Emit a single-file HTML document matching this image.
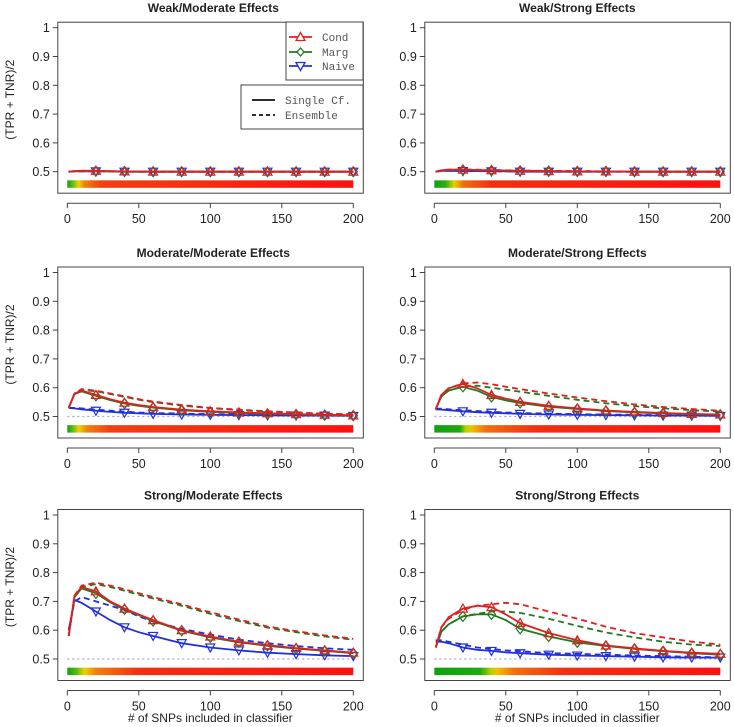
<!DOCTYPE html>
<html><head><meta charset="utf-8"><style>
html,body{margin:0;padding:0;background:#fff}
svg{display:block;font-family:"Liberation Sans",Arial,sans-serif}
</style></head><body>
<svg id="chart" width="734" height="727" viewBox="0 0 734 727" xmlns="http://www.w3.org/2000/svg"></svg>
<script>
const xVals=[1,5,10,20,30,40,50,60,80,100,120,140,160,180,200];
const panelTitles=["Weak/Moderate Effects","Weak/Strong Effects","Moderate/Moderate Effects","Moderate/Strong Effects","Strong/Moderate Effects","Strong/Strong Effects"];
const yTicks=[0.5,0.6,0.7,0.8,0.9,1];
const yTickLabels=["0.5","0.6","0.7","0.8","0.9","1"];
const xTicks=[0,50,100,150,200];
const markerX=[20,40,60,80,100,120,140,160,180,200];
// series per panel: condS, condE, margS, margE, naiveS, naiveE
const p1condS=[0.5,0.502,0.503,0.503,0.502,0.501,0.501,0.5,0.5,0.5,0.5,0.5,0.5,0.5,0.5];
const p1condE=[0.5,0.502,0.503,0.503,0.502,0.501,0.501,0.5,0.5,0.5,0.5,0.5,0.5,0.5,0.5];
const p1margS=[0.5,0.502,0.502,0.502,0.501,0.501,0.5,0.5,0.5,0.5,0.5,0.5,0.5,0.5,0.5];
const p1margE=[0.5,0.502,0.502,0.502,0.501,0.501,0.5,0.5,0.5,0.5,0.5,0.5,0.5,0.5,0.5];
const p1naiveS=[0.5,0.501,0.501,0.501,0.501,0.5,0.5,0.5,0.5,0.5,0.5,0.5,0.5,0.5,0.5];
const p1naiveE=[0.5,0.501,0.501,0.501,0.501,0.5,0.5,0.5,0.5,0.5,0.5,0.5,0.5,0.5,0.5];
const p2condS=[0.5,0.505,0.507,0.507,0.506,0.505,0.504,0.503,0.502,0.501,0.501,0.5,0.5,0.5,0.5];
const p2condE=[0.5,0.505,0.507,0.508,0.507,0.506,0.505,0.504,0.503,0.502,0.501,0.501,0.5,0.5,0.5];
const p2margS=[0.5,0.504,0.506,0.506,0.505,0.504,0.503,0.503,0.502,0.501,0.501,0.5,0.5,0.5,0.5];
const p2margE=[0.5,0.504,0.506,0.507,0.506,0.505,0.504,0.503,0.502,0.502,0.501,0.501,0.5,0.5,0.5];
const p2naiveS=[0.5,0.503,0.503,0.502,0.502,0.501,0.501,0.5,0.5,0.5,0.5,0.5,0.5,0.5,0.5];
const p2naiveE=[0.5,0.503,0.503,0.503,0.502,0.502,0.501,0.501,0.5,0.5,0.5,0.5,0.5,0.5,0.5];
const p3condS=[0.53,0.58,0.59,0.575,0.56,0.548,0.54,0.533,0.524,0.518,0.514,0.511,0.508,0.506,0.504];
const p3condE=[0.53,0.58,0.595,0.59,0.58,0.57,0.56,0.552,0.54,0.53,0.524,0.518,0.514,0.51,0.508];
const p3margS=[0.53,0.578,0.587,0.572,0.557,0.545,0.537,0.531,0.522,0.516,0.512,0.509,0.507,0.505,0.503];
const p3margE=[0.53,0.578,0.592,0.588,0.578,0.568,0.558,0.55,0.538,0.529,0.522,0.517,0.513,0.509,0.507];
const p3naiveS=[0.53,0.528,0.525,0.52,0.516,0.513,0.511,0.509,0.507,0.506,0.505,0.504,0.503,0.503,0.502];
const p3naiveE=[0.53,0.53,0.528,0.524,0.52,0.517,0.514,0.512,0.51,0.508,0.507,0.506,0.505,0.504,0.504];
const p4condS=[0.525,0.575,0.598,0.613,0.598,0.575,0.562,0.551,0.537,0.528,0.521,0.516,0.512,0.509,0.507];
const p4condE=[0.525,0.575,0.598,0.615,0.618,0.612,0.603,0.595,0.58,0.566,0.553,0.542,0.533,0.526,0.52];
const p4margS=[0.525,0.57,0.59,0.603,0.59,0.568,0.556,0.547,0.534,0.526,0.519,0.514,0.511,0.508,0.506];
const p4margE=[0.525,0.57,0.59,0.605,0.607,0.6,0.593,0.586,0.572,0.558,0.546,0.536,0.528,0.522,0.517];
const p4naiveS=[0.525,0.524,0.522,0.518,0.515,0.513,0.511,0.509,0.507,0.506,0.505,0.504,0.503,0.503,0.502];
const p4naiveE=[0.527,0.527,0.525,0.522,0.519,0.516,0.514,0.512,0.51,0.508,0.507,0.506,0.505,0.504,0.504];
const p5condS=[0.58,0.72,0.75,0.735,0.7,0.675,0.655,0.635,0.6,0.578,0.56,0.548,0.538,0.53,0.522];
const p5condE=[0.58,0.72,0.755,0.765,0.755,0.742,0.728,0.715,0.69,0.662,0.637,0.613,0.597,0.582,0.57];
const p5margS=[0.58,0.715,0.745,0.728,0.697,0.672,0.652,0.632,0.598,0.575,0.558,0.546,0.536,0.528,0.52];
const p5margE=[0.58,0.715,0.75,0.76,0.75,0.737,0.723,0.71,0.685,0.657,0.632,0.609,0.593,0.578,0.567];
const p5naiveS=[0.6,0.705,0.695,0.665,0.635,0.61,0.593,0.58,0.555,0.54,0.53,0.522,0.517,0.513,0.51];
const p5naiveE=[0.6,0.7,0.715,0.7,0.685,0.67,0.648,0.63,0.605,0.585,0.567,0.555,0.545,0.537,0.532];
const p6condS=[0.54,0.61,0.645,0.675,0.685,0.68,0.655,0.625,0.59,0.565,0.547,0.537,0.528,0.522,0.518];
const p6condE=[0.54,0.61,0.64,0.67,0.685,0.69,0.695,0.69,0.665,0.64,0.612,0.59,0.575,0.56,0.55];
const p6margS=[0.54,0.595,0.62,0.648,0.655,0.655,0.635,0.605,0.578,0.558,0.545,0.535,0.527,0.52,0.515];
const p6margE=[0.54,0.595,0.62,0.648,0.657,0.665,0.665,0.66,0.64,0.615,0.592,0.575,0.56,0.55,0.545];
const p6naiveS=[0.56,0.56,0.555,0.54,0.532,0.528,0.523,0.52,0.515,0.512,0.51,0.508,0.506,0.505,0.505];
const p6naiveE=[0.565,0.565,0.56,0.55,0.54,0.535,0.53,0.527,0.52,0.518,0.515,0.512,0.51,0.508,0.506];
const panelSeries=[
 [p1condS,p1condE,p1margS,p1margE,p1naiveS,p1naiveE],
 [p2condS,p2condE,p2margS,p2margE,p2naiveS,p2naiveE],
 [p3condS,p3condE,p3margS,p3margE,p3naiveS,p3naiveE],
 [p4condS,p4condE,p4margS,p4margE,p4naiveS,p4naiveE],
 [p5condS,p5condE,p5margS,p5margE,p5naiveS,p5naiveE],
 [p6condS,p6condE,p6margS,p6margE,p6naiveS,p6naiveE]];
const barGradients=[
 [[0,"#10a010"],[2,"#60c010"],[4,"#f0d000"],[6,"#f08010"],[12,"#f04010"],[100,"#ff1010"]],
 [[0,"#10a010"],[4,"#30b010"],[7,"#e8d000"],[10,"#f07010"],[20,"#f03010"],[100,"#ff1010"]],
 [[0,"#10a010"],[2,"#60c010"],[4,"#f0d000"],[7,"#f08010"],[15,"#f04010"],[100,"#ff1010"]],
 [[0,"#10a010"],[9,"#20a810"],[11,"#c0d000"],[13,"#f0c000"],[18,"#f07010"],[35,"#f03010"],[100,"#ff1010"]],
 [[0,"#10a010"],[3,"#50b810"],[6,"#f0d000"],[10,"#f08010"],[25,"#f03010"],[100,"#ff1010"]],
 [[0,"#10a010"],[16,"#20a810"],[20,"#c0d000"],[22,"#f0c000"],[28,"#f07010"],[45,"#f03010"],[100,"#ff1010"]]];

const NS="http://www.w3.org/2000/svg";
const svg=document.getElementById('chart');
function mk(tag,attrs,parent){const e=document.createElementNS(NS,tag);for(const k in attrs)e.setAttribute(k,attrs[k]);(parent||svg).appendChild(e);return e;}
const colX=[67.3,434.3], rowY1=[27.7,272.5,515], UX=286/200, UY=288;
const colors=["#e02020","#e02020","#207a20","#207a20","#2030e0","#2030e0"];
function interp(xs,ys,x){for(let i=0;i<xs.length-1;i++){if(x>=xs[i]&&x<=xs[i+1]){const t=(x-xs[i])/(xs[i+1]-xs[i]);return ys[i]+t*(ys[i+1]-ys[i]);}}return ys[ys.length-1];}
const defs=mk('defs',{});
for(let p=0;p<6;p++){
 const c=p%2,r=Math.floor(p/2);
 const sx=v=>colX[c]+v*UX, sy=v=>rowY1[r]+(1-v)*UY;
 const g=mk('g',{});
 
 
 const t=mk('text',{x:(sx(0)+sx(200))/2+(c?0:3),y:rowY1[r]-15.5,'text-anchor':'middle','font-size':'12','font-weight':'bold',fill:'#222'},g);
 t.textContent=panelTitles[p];
 
 
 const bx=sx(0)-9.5, bw=sx(200)-sx(0)+19.5;
 // color bar
 const gid='grad'+p; const lg=mk('linearGradient',{id:gid,x1:'0',x2:'1',y1:'0',y2:'0'},defs);
 barGradients[p].forEach(s=>mk('stop',{offset:s[0]+'%','stop-color':s[1]},lg));
 const bar=mk('rect',{x:sx(0),y:sy(0.47),width:sx(200)-sx(0),height:sy(0.444)-sy(0.47),fill:'url(#'+gid+')'},g);
 
 
 if(r>0){const ref=mk('line',{x1:sx(0),x2:sx(200),y1:sy(0.5),y2:sy(0.5),stroke:'#a8a8c8','stroke-width':1.2,'stroke-dasharray':'2,3'},g);
  }
 const names=['cond-single','cond-ensemble','marg-single','marg-ensemble','naive-single','naive-ensemble'];
 const order=[5,4,3,2,1,0];
 order.forEach(s=>{
  const ys=panelSeries[p][s];
  const d=xVals.map((x,i)=>(i?'L':'M')+sx(x).toFixed(1)+','+sy(ys[i]).toFixed(1)).join(' ');
  const pl=mk('path',{d:d,fill:'none',stroke:colors[s],'stroke-width':1.8,'stroke-dasharray':s%2?'6,4':'none'},g);
  
  
  if(s%2===0){markerX.forEach(mx=>{const X=sx(mx),Y=sy(interp(xVals,ys,mx));let pts;
   if(s===0)pts=[[X,Y-4.5],[X-4.5,Y+3.5],[X+4.5,Y+3.5]];
   else if(s===2)pts=[[X,Y-5],[X+4,Y],[X,Y+5],[X-4,Y]];
   else pts=[[X,Y+4.5],[X-4.5,Y-3.5],[X+4.5,Y-3.5]];
   const m=mk('polygon',{points:pts.map(q=>q.join(',')).join(' '),fill:'none',stroke:colors[s],'stroke-width':1.2},g);
   
   });}
 });
 const box=mk('rect',{x:bx,y:rowY1[r]-5.5,width:bw,height:sy(0.5)+21.5-(rowY1[r]-5.5),fill:'none',stroke:'#444','stroke-width':1},g);
 
 yTicks.forEach((v,i)=>{mk('line',{x1:bx,x2:bx-5,y1:sy(v),y2:sy(v),stroke:'#444'},g);
  const tl=mk('text',{x:bx-8,y:sy(v)+4.5,'text-anchor':'end','font-size':'12.5',fill:'#222'},g);tl.textContent=yTickLabels[i];
  });
 const axY=sy(0.5)+21.5;
 mk('line',{x1:sx(0),x2:sx(200),y1:axY+10,y2:axY+10,stroke:'#444'},g);
 xTicks.forEach(v=>{mk('line',{x1:sx(v),x2:sx(v),y1:axY+10,y2:axY+15,stroke:'#444'},g);
  const tl=mk('text',{x:sx(v),y:axY+30,'text-anchor':'middle','font-size':'12.5',fill:'#222'},g);tl.textContent=v;
  });
 if(c===0){const yt=mk('text',{x:0,y:0,transform:'translate(14,'+(rowY1[r]+72)+') rotate(-90)','text-anchor':'middle','font-size':'12',fill:'#222'},g);
  yt.textContent='(TPR + TNR)/2';}
 if(r===2){const xt=mk('text',{x:(sx(0)+sx(200))/2,y:722,'text-anchor':'middle','font-size':'12',fill:'#222'},g);
  xt.textContent='# of SNPs included in classifier';}
}
// legends
const lg1=mk('g',{});


mk('rect',{x:286,y:22,width:77,height:58,fill:'#fff',stroke:'#444'},lg1);
[["Cond",colors[0],37,0],["Marg",colors[2],52,1],["Naive",colors[4],66,2]].forEach(e=>{
 mk('line',{x1:289,x2:312,y1:e[2],y2:e[2],stroke:e[1],'stroke-width':1.8},lg1);
 const X=300.5,Y=e[2];let pts;
 if(e[3]===0)pts=[[X,Y-4.5],[X-4.5,Y+3.5],[X+4.5,Y+3.5]];else if(e[3]===1)pts=[[X,Y-4],[X+3.5,Y],[X,Y+4],[X-3.5,Y]];else pts=[[X,Y+4.5],[X-4.5,Y-3.5],[X+4.5,Y-3.5]];
 mk('polygon',{points:pts.map(q=>q.join(',')).join(' '),fill:'#fff',stroke:e[1],'stroke-width':1.3},lg1);
 const t=mk('text',{x:322,y:e[2]+4,'font-size':'11','font-family':'Liberation Mono, monospace',fill:'#555'},lg1);t.textContent=e[0];
 });
const lg2=mk('g',{});


mk('rect',{x:241,y:85,width:122,height:44,fill:'#fff',stroke:'#444'},lg2);
[["Single Cf.",'none',100],["Ensemble",'4,3',115]].forEach(e=>{
 mk('line',{x1:252,x2:275,y1:e[2],y2:e[2],stroke:'#111','stroke-width':1.8,'stroke-dasharray':e[1]},lg2);
 const t=mk('text',{x:285,y:e[2]+4,'font-size':'11','font-family':'Liberation Mono, monospace',fill:'#555'},lg2);t.textContent=e[0];
 });
</script>
</body></html>
